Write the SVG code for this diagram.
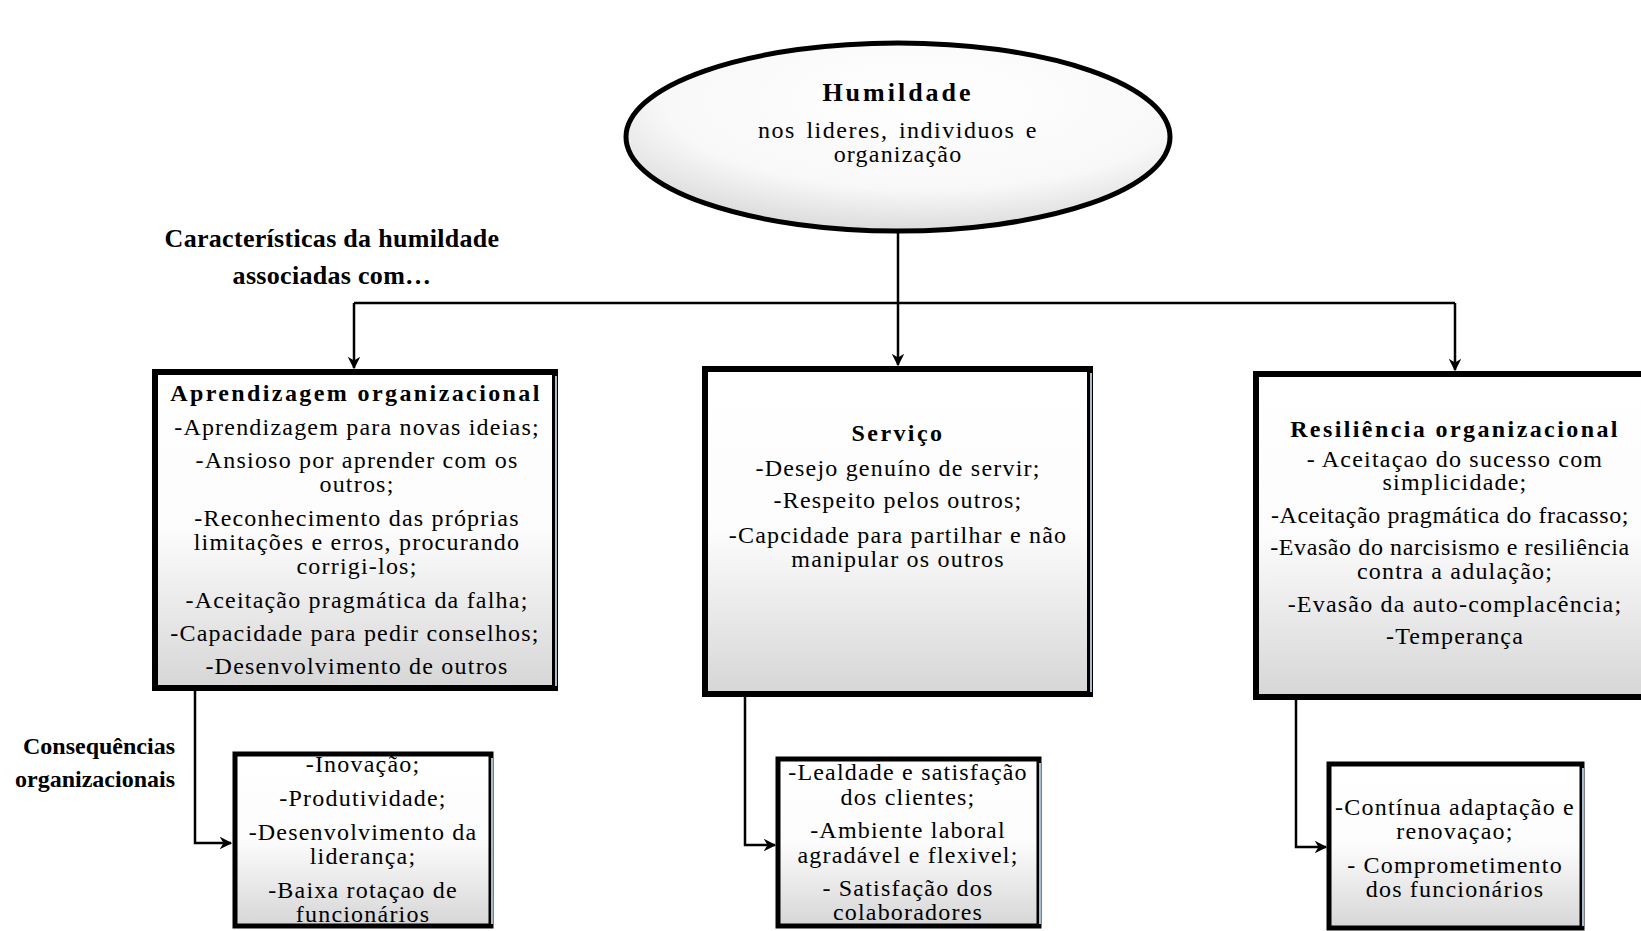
<svg xmlns="http://www.w3.org/2000/svg" width="1641" height="931" viewBox="0 0 1641 931">
<defs>
<linearGradient id="boxg" x1="0" y1="0" x2="0" y2="1">
<stop offset="0" stop-color="#ffffff"/>
<stop offset="0.5" stop-color="#fcfcfc"/>
<stop offset="1" stop-color="#d6d6d6"/>
</linearGradient>
<radialGradient id="ellg" cx="0.55" cy="0.3" r="0.8">
<stop offset="0" stop-color="#ffffff"/>
<stop offset="0.6" stop-color="#f8f8f8"/>
<stop offset="1" stop-color="#cfcfcf"/>
</radialGradient>
<marker id="arr" viewBox="0 0 10 10" refX="9" refY="5" markerWidth="5" markerHeight="5" orient="auto" markerUnits="strokeWidth">
<path d="M0,0 L10,5 L0,10 L3,5 Z" fill="#000"/>
</marker>
<style>
.box{fill:url(#boxg);}
.bord{fill:none;stroke:#000;stroke-width:6;}
.bord2{fill:none;stroke:#000;stroke-width:5;}
.edge{stroke:#a9bccf;stroke-width:2;}
.t{font-family:"Liberation Serif","Times New Roman",serif;font-size:24px;fill:#000;text-anchor:middle;letter-spacing:1.2px;}
.tb{font-family:"Liberation Serif","Times New Roman",serif;font-size:24px;font-weight:bold;fill:#000;text-anchor:middle;letter-spacing:2.4px;}
.lab{font-family:"Liberation Serif","Times New Roman",serif;font-size:26px;font-weight:bold;fill:#000;text-anchor:middle;letter-spacing:0.3px;}
.lab2{font-family:"Liberation Serif","Times New Roman",serif;font-size:24px;font-weight:bold;fill:#000;text-anchor:end;}
.c{fill:none;stroke:#000;stroke-width:2.5;}
</style>
</defs>
<rect width="1641" height="931" fill="#ffffff"/>

<g id="connectors">
<path class="c" d="M898,232 V303"/>
<path class="c" d="M354,303 H1455"/>
<path class="c" d="M354,303 V368" marker-end="url(#arr)"/>
<path class="c" d="M898,303 V365" marker-end="url(#arr)"/>
<path class="c" d="M1455,303 V370" marker-end="url(#arr)"/>
<path class="c" d="M195,690 V843 H231" marker-end="url(#arr)"/>
<path class="c" d="M745,696 V845 H775" marker-end="url(#arr)"/>
<path class="c" d="M1296,699 V847 H1326" marker-end="url(#arr)"/>
</g>

<g id="humildade">
<ellipse cx="898" cy="137" rx="272" ry="94" fill="url(#ellg)" stroke="#000" stroke-width="5"/>
<text class="tb" x="898" y="101" style="font-size:26px;letter-spacing:3px">Humildade</text>
<text class="t" x="898" y="138" style="letter-spacing:1.5px;word-spacing:3px">nos lideres, individuos e</text>
<text class="t" x="898" y="162">organização</text>
</g>

<g id="label-caracteristicas">
<text class="lab" x="332" y="247">Características da humildade</text>
<text class="lab" x="332" y="284">associadas com…</text>
</g>

<g id="label-consequencias">
<text class="lab2" x="175" y="754">Consequências</text>
<text class="lab2" x="175" y="787">organizacionais</text>
</g>

<g id="aprendizagem">
<rect class="box" x="155" y="372" width="400" height="316"/>
<text class="tb" x="356" y="401">Aprendizagem organizacional</text>
<text class="t" x="357" y="435">-Aprendizagem  para novas ideias;</text>
<text class="t" x="357" y="468">-Ansioso por aprender com os</text>
<text class="t" x="357" y="492">outros;</text>
<text class="t" x="357" y="526">-Reconhecimento das próprias</text>
<text class="t" x="357" y="550">limitações e erros, procurando</text>
<text class="t" x="357" y="574">corrigi-los;</text>
<text class="t" x="357" y="608">-Aceitação pragmática da falha;</text>
<text class="t" x="355" y="641">-Capacidade para pedir conselhos;</text>
<text class="t" x="357" y="674">-Desenvolvimento de outros</text>
<rect class="bord" x="155" y="372" width="400" height="316"/>
<line class="edge" x1="556" y1="376" x2="556" y2="686"/>
</g>

<g id="servico">
<rect class="box" x="705" y="369" width="385" height="325"/>
<text class="tb" x="898" y="441">Serviço</text>
<text class="t" x="898" y="476">-Desejo genuíno de servir;</text>
<text class="t" x="898" y="508">-Respeito pelos outros;</text>
<text class="t" x="898" y="543">-Capcidade para partilhar e não</text>
<text class="t" x="898" y="567">manipular os outros</text>
<rect class="bord" x="705" y="369" width="385" height="325"/>
<line class="edge" x1="1091" y1="373" x2="1091" y2="692"/>
</g>

<g id="resiliencia">
<rect class="box" x="1256" y="374" width="400" height="323"/>
<text class="tb" x="1455" y="437">Resiliência organizacional</text>
<text class="t" x="1455" y="467">- Aceitaçao do sucesso com</text>
<text class="t" x="1455" y="490">simplicidade;</text>
<text class="t" x="1450" y="523" style="letter-spacing:0.6px">-Aceitação pragmática do fracasso;</text>
<text class="t" x="1450" y="555" style="letter-spacing:0.6px">-Evasão do narcisismo e resiliência</text>
<text class="t" x="1455" y="579">contra a adulação;</text>
<text class="t" x="1455" y="612">-Evasão da auto-complacência;</text>
<text class="t" x="1455" y="644">-Temperança</text>
<rect class="bord" x="1256" y="374" width="400" height="323"/>
</g>

<g id="cons-aprendizagem">
<rect class="box" x="235" y="754" width="256" height="172"/>
<text class="t" x="363" y="772">-Inovação;</text>
<text class="t" x="363" y="806">-Produtividade;</text>
<text class="t" x="363" y="840">-Desenvolvimento da</text>
<text class="t" x="363" y="864">liderança;</text>
<text class="t" x="363" y="898">-Baixa rotaçao de</text>
<text class="t" x="363" y="922">funcionários</text>
<rect class="bord2" x="235" y="754" width="256" height="172"/>
<line class="edge" x1="492" y1="758" x2="492" y2="924"/>
</g>

<g id="cons-servico">
<rect class="box" x="778" y="759" width="261" height="167"/>
<text class="t" x="908" y="780">-Lealdade e satisfação</text>
<text class="t" x="908" y="805">dos clientes;</text>
<text class="t" x="908" y="838">-Ambiente laboral</text>
<text class="t" x="908" y="863">agradável e flexivel;</text>
<text class="t" x="908" y="896">- Satisfação dos</text>
<text class="t" x="908" y="920">colaboradores</text>
<rect class="bord2" x="778" y="759" width="261" height="167"/>
<line class="edge" x1="1040" y1="763" x2="1040" y2="924"/>
</g>

<g id="cons-resiliencia">
<rect class="box" x="1329" y="764" width="253" height="164"/>
<text class="t" x="1455" y="815">-Contínua adaptação e</text>
<text class="t" x="1455" y="839">renovaçao;</text>
<text class="t" x="1455" y="873">- Comprometimento</text>
<text class="t" x="1455" y="897">dos funcionários</text>
<rect class="bord2" x="1329" y="764" width="253" height="164"/>
<line class="edge" x1="1583" y1="768" x2="1583" y2="926"/>
</g>
</svg>
